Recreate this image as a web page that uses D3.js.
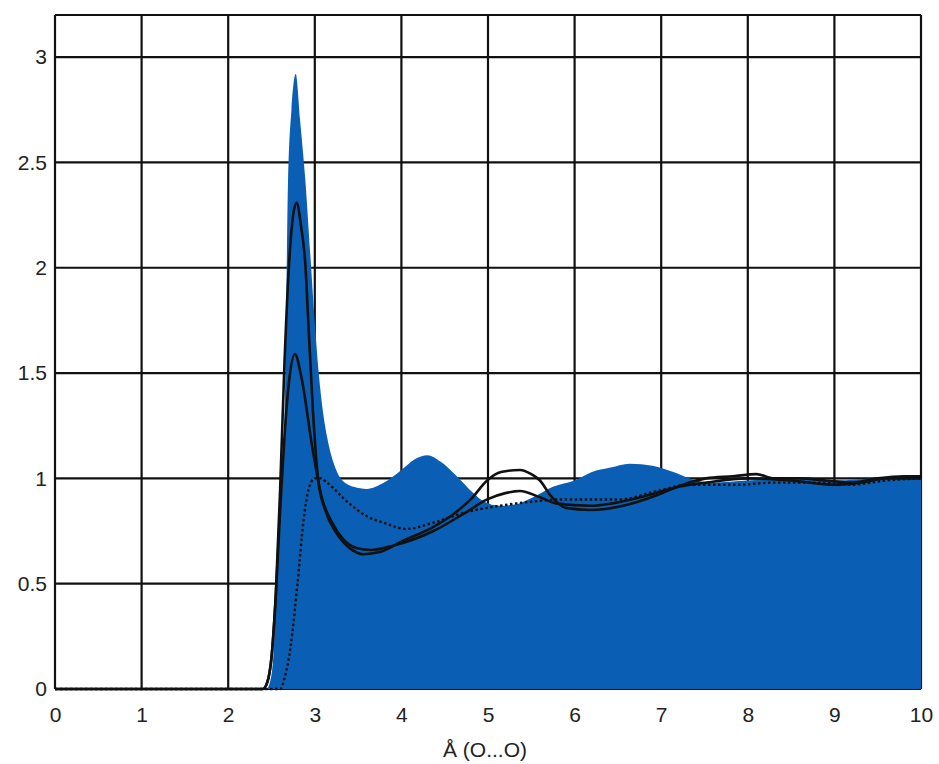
<!DOCTYPE html>
<html>
<head>
<meta charset="utf-8">
<script src="https://cdn.jsdelivr.net/npm/d3@7"></script>
<style>
  body { margin: 0; background: #fff; }
  text { font-family: "Liberation Sans", Arial, sans-serif; fill: #222; }
</style>
</head>
<body>
<svg id="chart" width="939" height="764"></svg>
<script>
// [r (Å), g(r)]
const filledCurve = [[0,0],[2.44,0],[2.48,0.03],[2.52,0.15],[2.56,0.5],[2.6,0.85],[2.63,1.0],[2.66,1.5],[2.69,2.4],[2.73,2.75],
  [2.78,2.92],[2.83,2.7],[2.89,2.42],[2.95,2.05],[3.0,1.74],[3.05,1.48],[3.1,1.3],[3.15,1.18],[3.22,1.07],[3.3,1.0],
  [3.45,0.96],[3.6,0.95],[3.8,0.98],[4.0,1.04],[4.15,1.09],[4.3,1.11],[4.45,1.08],[4.64,1.01],[4.83,0.93],[4.95,0.89],
  [5.14,0.87],[5.35,0.88],[5.52,0.91],[5.75,0.96],[6.0,0.99],[6.2,1.03],[6.4,1.05],[6.64,1.07],[6.9,1.06],[7.14,1.03],
  [7.33,1.0],[7.6,0.98],[8.0,0.99],[8.5,1.0],[9.0,0.99],[9.5,1.0],[10,1.0]];

const solidHigh = [[0,0],[2.4,0],[2.45,0.03],[2.5,0.15],[2.55,0.45],[2.6,0.95],[2.65,1.55],[2.7,2.0],[2.75,2.25],[2.79,2.31],
  [2.84,2.2],[2.89,2.02],[2.93,1.7],[2.98,1.31],[3.04,0.99],[3.12,0.85],[3.25,0.74],[3.4,0.67],[3.56,0.64],[3.75,0.65],
  [4.0,0.7],[4.37,0.77],[4.6,0.83],[4.8,0.9],[4.99,0.99],[5.15,1.03],[5.37,1.04],[5.5,1.02],[5.6,0.99],[5.72,0.92],
  [5.9,0.86],[6.18,0.85],[6.56,0.87],[6.95,0.92],[7.25,0.97],[7.52,1.0],[7.83,1.01],[8.1,1.02],[8.3,1.0],[8.6,1.0],
  [8.9,0.99],[9.2,0.98],[9.5,1.0],[9.8,1.01],[10,1.01]];

const solidLow = [[0,0],[2.4,0],[2.45,0.03],[2.5,0.15],[2.55,0.45],[2.6,0.85],[2.65,1.2],[2.7,1.45],[2.77,1.59],[2.85,1.47],
  [2.97,1.15],[3.08,0.91],[3.2,0.79],[3.33,0.71],[3.48,0.67],[3.65,0.66],[3.9,0.68],[4.37,0.75],[4.75,0.84],[4.99,0.9],
  [5.2,0.93],[5.37,0.94],[5.6,0.91],[5.8,0.88],[6.18,0.87],[6.76,0.91],[7.2,0.96],[7.52,0.98],[8.0,1.0],[8.5,0.99],
  [9.0,0.97],[9.3,0.98],[9.6,1.0],[10,1.0]];

const dotted = [[0,0],[2.6,0],[2.65,0.05],[2.72,0.2],[2.8,0.5],[2.87,0.8],[2.93,0.95],[3.0,1.0],[3.07,1.0],[3.14,0.98],
  [3.4,0.88],[3.6,0.82],[3.79,0.79],[4.06,0.76],[4.37,0.79],[4.75,0.84],[5.14,0.87],[5.52,0.89],[5.83,0.9],[6.2,0.9],
  [6.52,0.9],[6.95,0.94],[7.33,0.97],[7.9,0.97],[8.3,0.98],[8.8,0.98],[9.2,0.97],[9.6,0.99],[10,1.0]];

const xTicks = [0,1,2,3,4,5,6,7,8,9,10];
const yTicks = [0,0.5,1,1.5,2,2.5,3];
const xLabel = 'Å (O...O)';

const svg = d3.select('#chart');
const margin = { left: 55, right: 921, top: 15, bottom: 689 };

const x = d3.scaleLinear().domain([0, 10]).range([margin.left, margin.right]);
const y = d3.scaleLinear().domain([0, 3.2]).range([margin.bottom, margin.top]);

// grid + frame (drawn first so the blue fill covers it)
const grid = svg.append('g').attr('stroke', '#111').attr('stroke-width', 2.2);
grid.selectAll('.vg').data(xTicks).enter().append('line')
  .attr('x1', d => x(d)).attr('x2', d => x(d))
  .attr('y1', margin.top).attr('y2', margin.bottom);
grid.selectAll('.hg').data(yTicks.concat([3.2])).enter().append('line')
  .attr('x1', margin.left).attr('x2', margin.right)
  .attr('y1', d => y(d)).attr('y2', d => y(d));

// filled distribution
const area = d3.area()
  .x(d => x(d[0])).y0(y(0)).y1(d => y(d[1]))
  .curve(d3.curveMonotoneX);
svg.append('path').datum(filledCurve)
  .attr('d', area)
  .attr('fill', '#0a5fb4');

const line = d3.line()
  .x(d => x(d[0])).y(d => y(d[1]))
  .curve(d3.curveMonotoneX);

[solidHigh, solidLow].forEach(s => {
  svg.append('path').datum(s)
    .attr('d', line)
    .attr('fill', 'none')
    .attr('stroke', '#111')
    .attr('stroke-width', 2.6);
});

svg.append('path').datum(dotted)
  .attr('d', line)
  .attr('fill', 'none')
  .attr('stroke', '#111')
  .attr('stroke-width', 2.4)
  .attr('stroke-dasharray', '2.5,2.5');

// axes (labels only)
const xAxis = svg.append('g')
  .attr('transform', `translate(0,${margin.bottom})`)
  .call(d3.axisBottom(x).tickValues(xTicks).tickSize(0).tickPadding(18).tickFormat(d3.format('d')));
const yAxis = svg.append('g')
  .attr('transform', `translate(${margin.left},0)`)
  .call(d3.axisLeft(y).tickValues(yTicks).tickSize(0).tickPadding(8).tickFormat(d => String(d)));
[xAxis, yAxis].forEach(a => {
  a.select('.domain').remove();
  a.selectAll('text').style('font-size', '21px').attr('fill', '#222');
});

svg.append('text')
  .attr('x', (margin.left + margin.right) / 2 - 3)
  .attr('y', 757)
  .attr('text-anchor', 'middle')
  .style('font-size', '21px')
  .text(xLabel);
</script>
</body>
</html>
